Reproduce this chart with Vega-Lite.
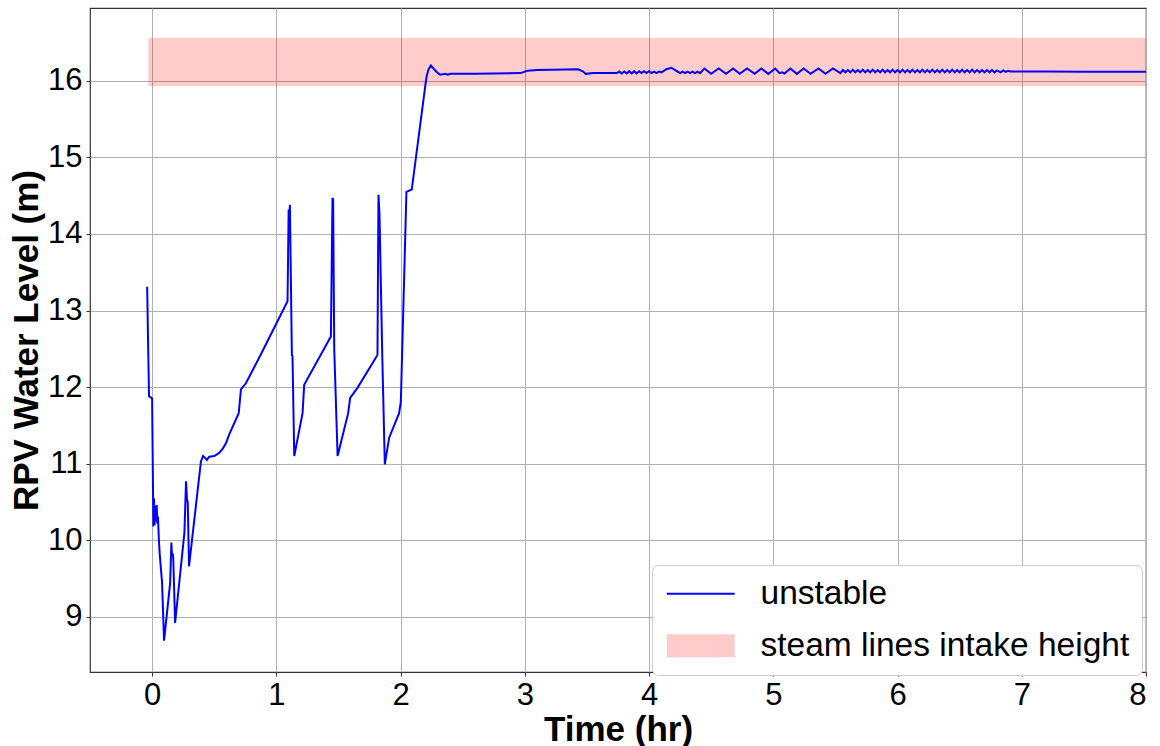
{
  "$schema": "https://vega.github.io/schema/vega-lite/v6.json",
  "width": 1056,
  "height": 664,
  "autosize": {"type": "none"},
  "padding": {"left": 90, "top": 8, "right": 14, "bottom": 74},
  "background": "white",
  "config": {
    "view": {"stroke": "#333333", "strokeWidth": 1.2},
    "font": "Liberation Sans",
    "axis": {
      "grid": true,
      "gridColor": "#b0b0b0",
      "gridWidth": 1,
      "domain": false,
      "tickColor": "#333333",
      "tickSize": 4,
      "labelFont": "Liberation Sans",
      "labelFontSize": 31,
      "labelColor": "black",
      "labelPadding": 4,
      "format": "d",
      "titleFont": "Liberation Sans",
      "titleFontSize": 35,
      "titleFontWeight": "bold",
      "titleColor": "black",
      "titleBaseline": "alphabetic"
    },
    "legend": {
      "title": null,
      "orient": "none",
      "legendX": 562,
      "legendY": 557,
      "fillColor": "white",
      "strokeColor": "#cccccc",
      "cornerRadius": 6,
      "padding": 12,
      "labelFont": "Liberation Sans",
      "labelFontSize": 33.5,
      "labelColor": "black",
      "labelLimit": 0,
      "symbolSize": 576,
      "symbolOffset": 20,
      "labelOffset": 43,
      "rowPadding": 17
    }
  },
  "datasets": {
    "band": [
      {"t0": -0.03, "t1": 8, "lo": 15.93, "hi": 16.56, "series": "steam lines intake height"}
    ],
    "level": [
      {"t": -0.04, "level": 13.31}, {"t": -0.025, "level": 11.88}, {"t": -0.005, "level": 11.86}, {"t": 0.0, "level": 11.85},
      {"t": 0.01, "level": 10.18}, {"t": 0.015, "level": 10.55}, {"t": 0.02, "level": 10.2}, {"t": 0.025, "level": 10.45},
      {"t": 0.03, "level": 10.25}, {"t": 0.037, "level": 10.46}, {"t": 0.042, "level": 10.22}, {"t": 0.047, "level": 10.31},
      {"t": 0.055, "level": 9.99}, {"t": 0.062, "level": 9.8}, {"t": 0.08, "level": 9.45}, {"t": 0.096, "level": 8.69},
      {"t": 0.145, "level": 9.44}, {"t": 0.155, "level": 9.97}, {"t": 0.16, "level": 9.8}, {"t": 0.165, "level": 9.83},
      {"t": 0.17, "level": 9.77}, {"t": 0.185, "level": 8.92}, {"t": 0.26, "level": 10.1}, {"t": 0.273, "level": 10.77},
      {"t": 0.28, "level": 10.55}, {"t": 0.287, "level": 10.49}, {"t": 0.297, "level": 9.66}, {"t": 0.393, "level": 11.03},
      {"t": 0.41, "level": 11.1}, {"t": 0.43, "level": 11.07}, {"t": 0.44, "level": 11.05}, {"t": 0.46, "level": 11.09},
      {"t": 0.5, "level": 11.1}, {"t": 0.54, "level": 11.14}, {"t": 0.57, "level": 11.2}, {"t": 0.595, "level": 11.27},
      {"t": 0.62, "level": 11.38}, {"t": 0.697, "level": 11.66}, {"t": 0.715, "level": 11.97}, {"t": 0.755, "level": 12.05},
      {"t": 0.876, "level": 12.43}, {"t": 1.09, "level": 13.12}, {"t": 1.099, "level": 14.32}, {"t": 1.103, "level": 14.08},
      {"t": 1.109, "level": 14.38}, {"t": 1.125, "level": 12.42}, {"t": 1.13, "level": 12.4}, {"t": 1.144, "level": 11.1},
      {"t": 1.211, "level": 11.66}, {"t": 1.224, "level": 12.03}, {"t": 1.439, "level": 12.66}, {"t": 1.452, "level": 14.47},
      {"t": 1.457, "level": 14.45}, {"t": 1.466, "level": 12.49}, {"t": 1.493, "level": 11.1}, {"t": 1.578, "level": 11.66},
      {"t": 1.594, "level": 11.86}, {"t": 1.653, "level": 11.99}, {"t": 1.814, "level": 12.42}, {"t": 1.822, "level": 14.51},
      {"t": 1.83, "level": 14.27}, {"t": 1.853, "level": 12.38}, {"t": 1.873, "level": 10.99}, {"t": 1.908, "level": 11.34},
      {"t": 1.988, "level": 11.66}, {"t": 2.002, "level": 11.81}, {"t": 2.047, "level": 14.55}, {"t": 2.09, "level": 14.58},
      {"t": 2.2, "level": 15.95}, {"t": 2.21, "level": 16.06}, {"t": 2.225, "level": 16.15}, {"t": 2.243, "level": 16.2},
      {"t": 2.27, "level": 16.15}, {"t": 2.3, "level": 16.1}, {"t": 2.32, "level": 16.08}, {"t": 2.36, "level": 16.09},
      {"t": 2.38, "level": 16.08}, {"t": 2.4, "level": 16.09}, {"t": 2.6, "level": 16.09}, {"t": 2.966, "level": 16.1},
      {"t": 3.02, "level": 16.13}, {"t": 3.1, "level": 16.14}, {"t": 3.43, "level": 16.15}, {"t": 3.47, "level": 16.12},
      {"t": 3.49, "level": 16.09}, {"t": 3.55, "level": 16.1}, {"t": 3.6, "level": 16.1}, {"t": 3.74, "level": 16.1},
      {"t": 3.76, "level": 16.12}, {"t": 3.78, "level": 16.095}, {"t": 3.8, "level": 16.12}, {"t": 3.82, "level": 16.095},
      {"t": 3.84, "level": 16.125}, {"t": 3.86, "level": 16.095}, {"t": 3.88, "level": 16.125}, {"t": 3.9, "level": 16.095},
      {"t": 3.92, "level": 16.125}, {"t": 3.94, "level": 16.1}, {"t": 3.96, "level": 16.125}, {"t": 3.98, "level": 16.1},
      {"t": 4.0, "level": 16.125}, {"t": 4.02, "level": 16.1}, {"t": 4.04, "level": 16.12}, {"t": 4.06, "level": 16.1},
      {"t": 4.08, "level": 16.12}, {"t": 4.1, "level": 16.11}, {"t": 4.14, "level": 16.15}, {"t": 4.18, "level": 16.17},
      {"t": 4.22, "level": 16.13}, {"t": 4.25, "level": 16.1}, {"t": 4.27, "level": 16.12}, {"t": 4.29, "level": 16.1},
      {"t": 4.31, "level": 16.12}, {"t": 4.33, "level": 16.1}, {"t": 4.35, "level": 16.12}, {"t": 4.37, "level": 16.1},
      {"t": 4.39, "level": 16.12}, {"t": 4.41, "level": 16.1}, {"t": 4.445, "level": 16.16}, {"t": 4.5, "level": 16.09},
      {"t": 4.56, "level": 16.16}, {"t": 4.62, "level": 16.09}, {"t": 4.676, "level": 16.16}, {"t": 4.73, "level": 16.09},
      {"t": 4.789, "level": 16.16}, {"t": 4.85, "level": 16.09}, {"t": 4.904, "level": 16.16}, {"t": 4.96, "level": 16.09},
      {"t": 5.016, "level": 16.16}, {"t": 5.05, "level": 16.1}, {"t": 5.07, "level": 16.11}, {"t": 5.09, "level": 16.095},
      {"t": 5.137, "level": 16.16}, {"t": 5.19, "level": 16.09}, {"t": 5.244, "level": 16.16}, {"t": 5.3, "level": 16.09},
      {"t": 5.364, "level": 16.16}, {"t": 5.42, "level": 16.09}, {"t": 5.48, "level": 16.16}, {"t": 5.54, "level": 16.1},
      {"t": 5.56, "level": 16.14}, {"t": 5.58, "level": 16.11}, {"t": 5.6, "level": 16.14}, {"t": 5.62, "level": 16.11},
      {"t": 5.64, "level": 16.145}, {"t": 5.66, "level": 16.11}, {"t": 5.68, "level": 16.14}, {"t": 5.7, "level": 16.11},
      {"t": 5.72, "level": 16.145}, {"t": 5.74, "level": 16.11}, {"t": 5.76, "level": 16.14}, {"t": 5.78, "level": 16.11},
      {"t": 5.8, "level": 16.145}, {"t": 5.82, "level": 16.11}, {"t": 5.84, "level": 16.14}, {"t": 5.86, "level": 16.11},
      {"t": 5.88, "level": 16.145}, {"t": 5.9, "level": 16.11}, {"t": 5.92, "level": 16.14}, {"t": 5.94, "level": 16.11},
      {"t": 5.96, "level": 16.145}, {"t": 5.98, "level": 16.11}, {"t": 6.0, "level": 16.14}, {"t": 6.02, "level": 16.11},
      {"t": 6.04, "level": 16.145}, {"t": 6.06, "level": 16.11}, {"t": 6.08, "level": 16.14}, {"t": 6.1, "level": 16.11},
      {"t": 6.12, "level": 16.145}, {"t": 6.14, "level": 16.11}, {"t": 6.16, "level": 16.14}, {"t": 6.18, "level": 16.11},
      {"t": 6.2, "level": 16.145}, {"t": 6.22, "level": 16.11}, {"t": 6.24, "level": 16.14}, {"t": 6.26, "level": 16.11},
      {"t": 6.28, "level": 16.145}, {"t": 6.3, "level": 16.11}, {"t": 6.32, "level": 16.14}, {"t": 6.34, "level": 16.11},
      {"t": 6.36, "level": 16.145}, {"t": 6.38, "level": 16.11}, {"t": 6.4, "level": 16.14}, {"t": 6.42, "level": 16.11},
      {"t": 6.44, "level": 16.145}, {"t": 6.46, "level": 16.11}, {"t": 6.48, "level": 16.14}, {"t": 6.5, "level": 16.11},
      {"t": 6.52, "level": 16.145}, {"t": 6.54, "level": 16.11}, {"t": 6.56, "level": 16.14}, {"t": 6.58, "level": 16.11},
      {"t": 6.6, "level": 16.145}, {"t": 6.62, "level": 16.11}, {"t": 6.64, "level": 16.14}, {"t": 6.66, "level": 16.11},
      {"t": 6.68, "level": 16.14}, {"t": 6.7, "level": 16.11}, {"t": 6.72, "level": 16.14}, {"t": 6.74, "level": 16.11},
      {"t": 6.76, "level": 16.14}, {"t": 6.78, "level": 16.11}, {"t": 6.8, "level": 16.135}, {"t": 6.83, "level": 16.11},
      {"t": 6.85, "level": 16.135}, {"t": 6.87, "level": 16.115}, {"t": 6.89, "level": 16.13}, {"t": 6.91, "level": 16.12},
      {"t": 7.2, "level": 16.12}, {"t": 7.5, "level": 16.118}, {"t": 8.0, "level": 16.117}
    ]
  },
  "layer": [
    {
      "data": {"name": "band"},
      "mark": {"type": "rect", "opacity": 0.2},
      "encoding": {
        "x": {"field": "t0", "type": "quantitative", "scale": {"domain": [-0.5, 8], "nice": false, "zero": false},
              "axis": {"values": [0, 1, 2, 3, 4, 5, 6, 7, 8], "title": "Time (hr)", "titleY": 68}},
        "x2": {"field": "t1"},
        "y": {"field": "lo", "type": "quantitative", "scale": {"domain": [8.28, 16.95], "nice": false, "zero": false},
              "axis": {"values": [9, 10, 11, 12, 13, 14, 15, 16], "title": "RPV Water Level (m)", "titleX": -53}},
        "y2": {"field": "hi"},
        "color": {"field": "series", "type": "nominal",
                  "scale": {"domain": ["unstable", "steam lines intake height"], "range": ["#0000ff", "#ff0000"]},
                  "legend": {
                    "encode": {
                      "symbols": {
                        "update": {
                          "shape": {"signal": "datum.value === 'unstable' ? 'M-2.83,0H2.83' : 'M-2.83,-0.96H2.83V0.96H-2.83Z'"},
                          "strokeWidth": {"value": 2},
                          "opacity": {"signal": "datum.value === 'unstable' ? 1 : 0.2"},
                          "fillOpacity": {"signal": "datum.value === 'unstable' ? 0 : 1"},
                          "strokeOpacity": {"signal": "datum.value === 'unstable' ? 1 : 0"}
                        }
                      }
                    }
                  }}
      }
    },
    {
      "data": {"name": "level"},
      "transform": [{"calculate": "'unstable'", "as": "series"}],
      "mark": {"type": "line", "strokeWidth": 2, "clip": true},
      "encoding": {
        "x": {"field": "t", "type": "quantitative"},
        "y": {"field": "level", "type": "quantitative"},
        "color": {"field": "series", "type": "nominal",
                  "legend": {
                    "encode": {
                      "symbols": {
                        "update": {
                          "shape": {"signal": "datum.value === 'unstable' ? 'M-2.83,0H2.83' : 'M-2.83,-0.96H2.83V0.96H-2.83Z'"},
                          "strokeWidth": {"value": 2},
                          "opacity": {"signal": "datum.value === 'unstable' ? 1 : 0.2"},
                          "fillOpacity": {"signal": "datum.value === 'unstable' ? 0 : 1"},
                          "strokeOpacity": {"signal": "datum.value === 'unstable' ? 1 : 0"}
                        }
                      }
                    }
                  }}
      }
    }
  ]
}
